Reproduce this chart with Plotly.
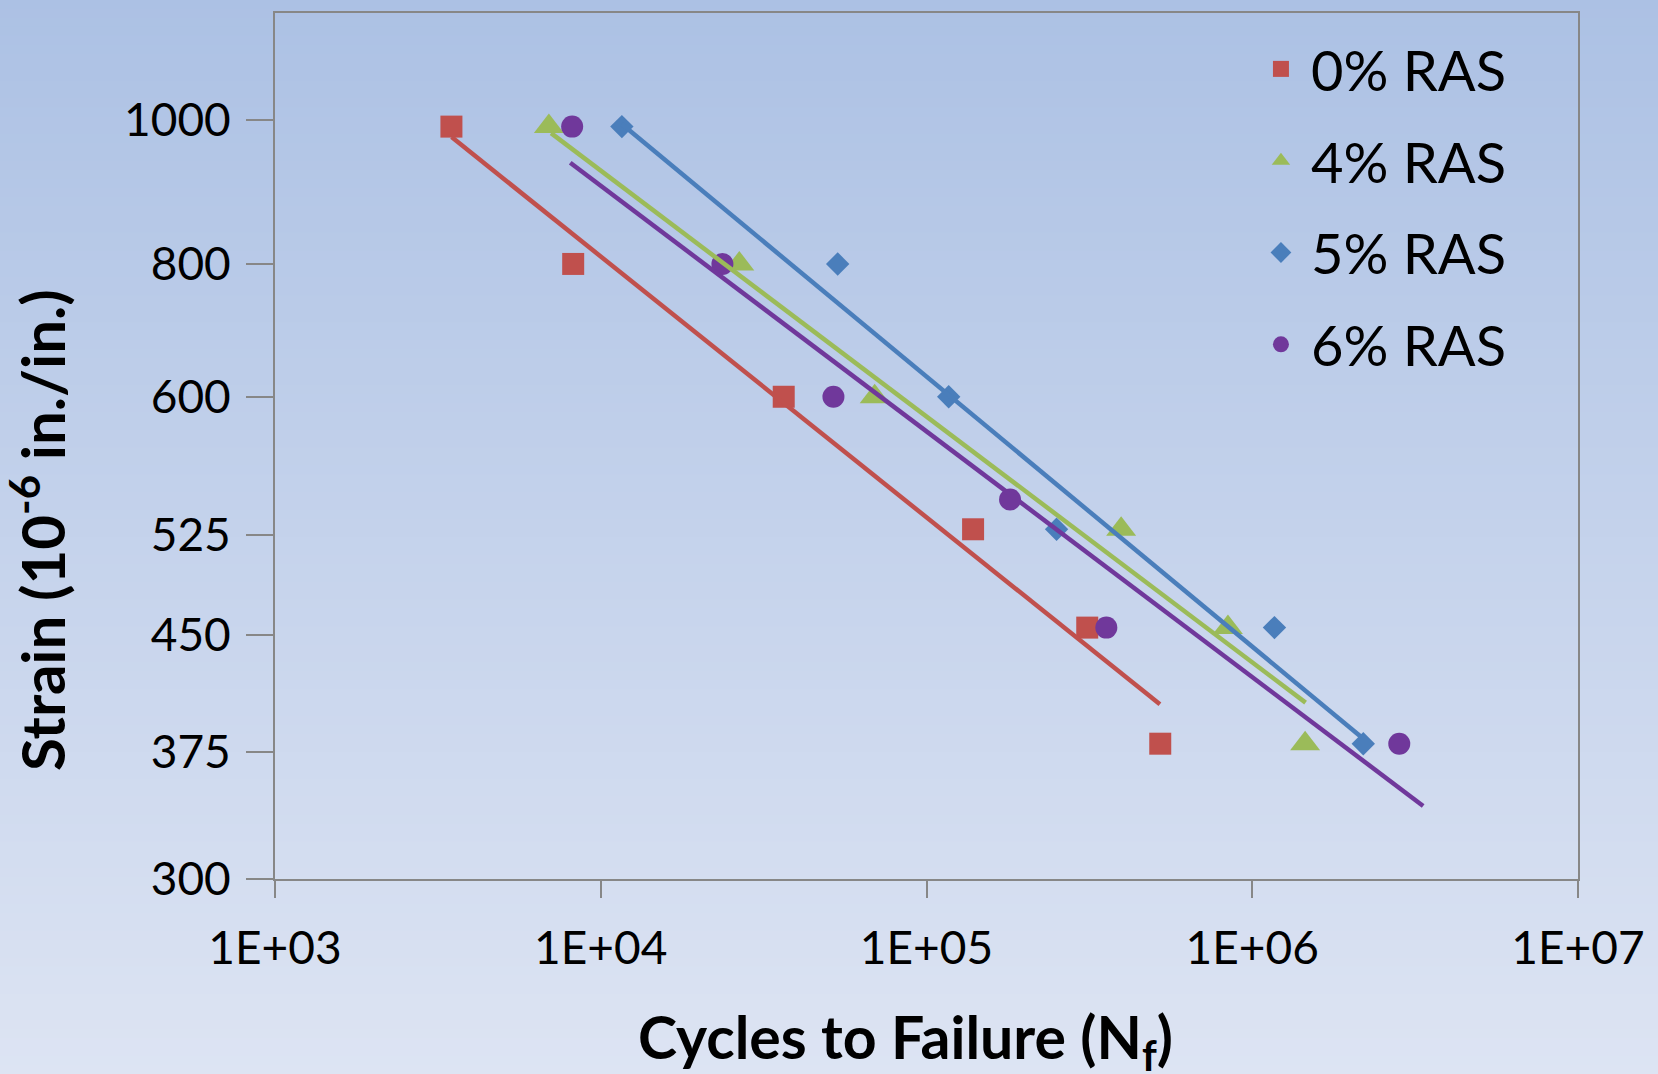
import plotly.graph_objects as go

# ---------------- data ----------------
series_names = ["0% RAS", "4% RAS", "5% RAS", "6% RAS"]
series_colors = ["#C0504D", "#9BBB59", "#4A7EBB", "#70389B"]
series_symbols = ["square", "triangle-up", "diamond", "circle"]
series_sizes = [22, 26, 18, 22]

cycles_0 = [3480, 8230, 36450, 139000, 311500, 521900]
strain_0 = [990, 800, 651, 530, 455, 380]

cycles_4 = [6930, 26630, 69330, 395800, 842000, 1453000]
strain_4 = [990, 800, 651, 530, 455, 380]

cycles_5 = [11610, 53370, 117000, 250800, 1170000, 2192000]
strain_5 = [990, 800, 651, 530, 455, 380]

cycles_6 = [8170, 23630, 51800, 180500, 356500, 2827000]
strain_6 = [990, 800, 651, 555, 455, 380]

# trend lines (power-law fits, straight on log-log) : end points
trend_x_0 = [3485, 520700]
trend_y_0 = [974, 404]
trend_x_4 = [7040, 1458000]
trend_y_4 = [980, 405]
trend_x_5 = [11600, 2161000]
trend_y_5 = [994, 384]
trend_x_6 = [8060, 3347000]
trend_y_6 = [936, 345]

x_tick_vals = [1e3, 1e4, 1e5, 1e6, 1e7]
x_tick_text = ["1E+03", "1E+04", "1E+05", "1E+06", "1E+07"]
y_tick_vals = [308, 375, 450, 525, 651, 800, 1000]
y_tick_text = ["300", "375", "450", "525", "600", "800", "1000"]

x_title = "Cycles to Failure (N<sub>f</sub>)"
y_title = "Strain (10<sup>-6</sup> in./in.)"

# ---------------- figure ----------------
W, H = 1658, 1074
ML, MR, MT, MB = 275, 80, 13, 195
PW, PH = W - ML - MR, H - MT - MB

FONT = "Lato, 'Open Sans', sans-serif"
AXIS_GRAY = "#878787"

fig = go.Figure()

marker_sets = [(cycles_0, strain_0), (cycles_4, strain_4), (cycles_5, strain_5), (cycles_6, strain_6)]
for i, (xs, ys) in enumerate(marker_sets):
    fig.add_trace(go.Scatter(
        x=xs, y=ys, mode="markers", name=series_names[i],
        legendgroup=series_names[i],
        marker=dict(symbol=series_symbols[i], size=series_sizes[i],
                    color=series_colors[i], line=dict(width=0)),
    ))

trend_sets = [(trend_x_0, trend_y_0), (trend_x_4, trend_y_4), (trend_x_5, trend_y_5), (trend_x_6, trend_y_6)]
for i, (xs, ys) in enumerate(trend_sets):
    fig.add_trace(go.Scatter(
        x=xs, y=ys, mode="lines", showlegend=False, hoverinfo="skip",
        legendgroup=series_names[i],
        line=dict(color=series_colors[i], width=4.5),
    ))

# gradient background (styling only)
top_rgb = (172, 193, 228)
bot_rgb = (221, 228, 243)
n_bands = 120
shapes = []
x0p = -ML / PW
x1p = 1 + MR / PW
for k in range(n_bands):
    t = (k + 0.5) / n_bands
    c = tuple(round(top_rgb[j] + (bot_rgb[j] - top_rgb[j]) * t) for j in range(3))
    ytop_px = H * k / n_bands
    ybot_px = H * (k + 1) / n_bands + 1
    shapes.append(dict(
        type="rect", xref="paper", yref="paper", layer="below",
        x0=x0p, x1=x1p,
        y0=(H - MB - ybot_px) / PH, y1=(H - MB - ytop_px) / PH,
        fillcolor="rgb(%d,%d,%d)" % c, line=dict(width=0),
    ))

fig.update_layout(
    width=W, height=H,
    margin=dict(l=ML, r=MR, t=MT, b=MB, pad=0),
    paper_bgcolor="rgb(200,212,236)",
    plot_bgcolor="rgba(0,0,0,0)",
    shapes=shapes,
    font=dict(family=FONT, color="black"),
    showlegend=True,
    legend=dict(
        x=0.749, y=0.985, xanchor="left", yanchor="top",
        bgcolor="rgba(0,0,0,0)", borderwidth=0,
        font=dict(size=56, family=FONT, color="black"),
        tracegroupgap=16, itemwidth=50,
    ),
    annotations=[
        dict(text="<b>" + x_title + "</b>", xref="paper", yref="paper",
             x=(905 - ML) / PW, y=(H - MB - 1040) / PH,
             xanchor="center", yanchor="middle", showarrow=False,
             font=dict(size=59, family=FONT, color="black")),
        dict(text="<b>" + y_title + "</b>", xref="paper", yref="paper",
             x=(38 - ML) / PW, y=(H - MB - 530) / PH, textangle=-90,
             xanchor="center", yanchor="middle", showarrow=False,
             font=dict(size=60, family=FONT, color="black")),
    ],
)

fig.update_xaxes(
    type="log", range=[3, 7],
    tickmode="array", tickvals=x_tick_vals, ticktext=x_tick_text,
    ticks="outside", ticklen=17, tickwidth=2, tickcolor=AXIS_GRAY,
    showline=True, linecolor=AXIS_GRAY, linewidth=2, mirror=True,
    showgrid=False, zeroline=False,
    tickfont=dict(size=46, family=FONT, color="black"),
    ticklabelstandoff=11,
)
fig.update_yaxes(
    type="log", range=[2.4886, 3.0722],
    tickmode="array", tickvals=y_tick_vals, ticktext=y_tick_text,
    ticks="outside", ticklen=27, tickwidth=2, tickcolor=AXIS_GRAY,
    showline=True, linecolor=AXIS_GRAY, linewidth=2, mirror=True,
    showgrid=False, zeroline=False,
    tickfont=dict(size=46, family=FONT, color="black"),
    ticklabelstandoff=6,
)

fig.write_html("out.html",
               config={"displayModeBar": False},
               post_script="document.body.style.margin='0';document.body.style.overflow='hidden';")
